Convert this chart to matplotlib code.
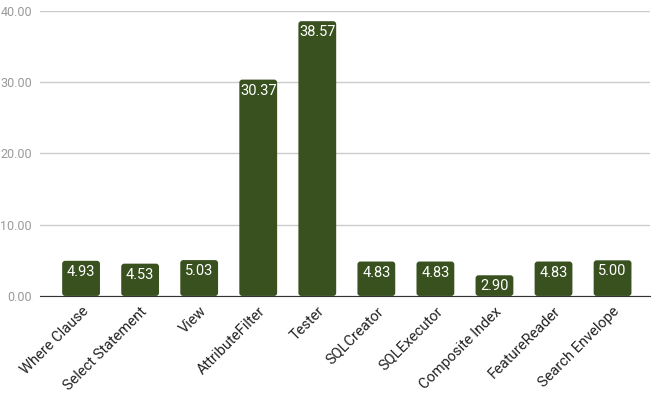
import numpy as np
import matplotlib
matplotlib.use("Agg")
import matplotlib.pyplot as plt
from matplotlib.patches import FancyBboxPatch

categories = ["Where Clause", "Select Statement", "View", "AttributeFilter", "Tester",
              "SQLCreator", "SQLExecutor", "Composite Index", "FeatureReader", "Search Envelope"]
values = [4.93, 4.53, 5.03, 30.37, 38.57, 4.83, 4.83, 2.90, 4.83, 5.00]
yticks = [0, 10, 20, 30, 40]

plt.rcParams["font.family"] = ["Roboto", "DejaVu Sans"]
bar_color = "#38511f"

fig = plt.figure(figsize=(6.61, 3.93), dpi=100)
ax = fig.add_axes([0.061, 0.247, 0.922, 0.725])

x = np.arange(len(categories))
width = 0.64
ax.set_xlim(-0.69, 9.63)
ax.set_ylim(0, 40)

# rounded bars
px_x = 1 / 59.1
px_y = 40 / 285
for xi, v in zip(x, values):
    p = FancyBboxPatch((xi - width / 2, 0), width, v,
                       boxstyle=f"round,pad=0,rounding_size={3 * px_x}",
                       mutation_aspect=px_y / px_x,
                       facecolor=bar_color, edgecolor="none", zorder=3)
    ax.add_patch(p)
    ax.annotate(f"{v:.2f}", (xi, v), xytext=(0, -3), textcoords="offset points",
                ha="center", va="top", color="white", fontsize=10.5, zorder=4)

ax.set_yticks(yticks)
ax.set_yticklabels([f"{t:.2f}" for t in yticks], color="#999999", fontsize=9)
ax.set_xticks(x)
ax.set_xticklabels(categories, rotation=45, ha="right", rotation_mode="anchor",
                   fontsize=10.5, color="#222222")
ax.tick_params(axis="both", length=0)
ax.tick_params(axis="y", pad=6)
ax.tick_params(axis="x", pad=6)
ax.grid(axis="y", color="#cccccc", lw=1, zorder=0)
for s in ["top", "right", "left"]:
    ax.spines[s].set_visible(False)
ax.spines["bottom"].set_color("#333333")
ax.spines["bottom"].set_zorder(5)

fig.savefig("out.png", dpi=100)
